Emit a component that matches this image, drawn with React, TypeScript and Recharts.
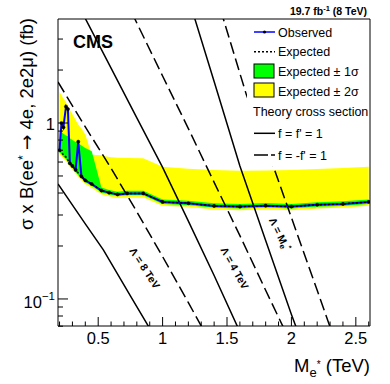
import React from 'react';
import { ComposedChart, Line, Area, XAxis, YAxis, ReferenceLine, Legend } from 'recharts';

const FONT = '"Liberation Sans", Arial, Helvetica, sans-serif';
const X_MIN = 0.188;
const X_MAX = 2.61;
const Y_MIN = 0.0702;
const Y_MAX = 3.9;

// limit scan (TeV) and cross section limits (fb)
const masses = [0.2, 0.215, 0.23, 0.25, 0.265, 0.28, 0.3, 0.325, 0.345, 0.37, 0.4, 0.45, 0.525, 0.585, 0.65, 0.725, 0.85, 1.0, 1.2, 1.4, 1.6, 1.8, 2.0, 2.2, 2.4, 2.6];
const observed = [0.7, 1.0, 0.945, 1.24, 1.2, 0.59, 0.57, 0.541, 0.783, 0.497, 0.472, 0.45, 0.413, 0.402, 0.393, 0.398, 0.398, 0.356, 0.35, 0.338, 0.335, 0.339, 0.335, 0.343, 0.347, 0.356];
const expected = [0.7, 0.68, 0.66, 0.64, 0.615, 0.59, 0.57, 0.541, 0.52, 0.497, 0.472, 0.45, 0.413, 0.402, 0.393, 0.398, 0.398, 0.356, 0.35, 0.338, 0.335, 0.339, 0.335, 0.343, 0.347, 0.356];
const oneSigmaLow = [0.683, 0.663, 0.644, 0.624, 0.6, 0.575, 0.556, 0.527, 0.507, 0.485, 0.46, 0.439, 0.403, 0.392, 0.383, 0.388, 0.388, 0.347, 0.341, 0.33, 0.327, 0.331, 0.327, 0.334, 0.338, 0.347];
const oneSigmaHigh = [0.9, 0.89, 0.87, 0.85, 0.84, 0.82, 0.8, 0.78, 0.77, 0.745, 0.72, 0.69, 0.43, 0.416, 0.407, 0.412, 0.412, 0.368, 0.362, 0.35, 0.347, 0.351, 0.347, 0.355, 0.359, 0.368];
const twoSigmaLow = [0.667, 0.648, 0.629, 0.61, 0.586, 0.562, 0.543, 0.516, 0.496, 0.474, 0.45, 0.429, 0.394, 0.383, 0.375, 0.379, 0.379, 0.339, 0.334, 0.322, 0.319, 0.323, 0.319, 0.327, 0.331, 0.339];
const twoSigmaHigh = [1.5, 1.44, 1.38, 1.31, 1.25, 1.19, 1.12, 1.04, 0.98, 0.93, 0.86, 0.66, 0.655, 0.64, 0.635, 0.633, 0.63, 0.565, 0.55, 0.54, 0.535, 0.537, 0.54, 0.547, 0.555, 0.565];

// theory cross sections
const lam8PlusM = [0.188, 0.4, 0.54, 0.75, 0.9];
const lam8PlusV = [0.45, 0.267, 0.19, 0.104, 0.068];
const lam8MinusM = [0.188, 0.4, 0.6, 0.8, 1.0, 1.2, 1.32];
const lam8MinusV = [1.71, 0.95, 0.553, 0.313, 0.174, 0.0953, 0.066];
const lam4PlusM = [0.38, 0.6, 0.8, 1.0, 1.2, 1.4, 1.6];
const lam4PlusV = [4.19, 2.05, 1.07, 0.56, 0.277, 0.136, 0.065];
const lam4MinusM = [0.76, 1.0, 1.2, 1.4, 1.6, 1.8, 1.95];
const lam4MinusV = [4.25, 1.85, 0.93, 0.46, 0.229, 0.112, 0.066];
const lamMPlusM = [1.23, 1.4, 1.6, 1.8, 2.0, 2.05];
const lamMPlusV = [4.37, 1.72, 0.57, 0.215, 0.0817, 0.065];
const lamMMinusM = [1.45, 1.65, 1.86, 2.0, 2.2, 2.31];
const lamMMinusV = [4.4, 1.45, 0.565, 0.29, 0.112, 0.066];

const xTicks = [0.2, 0.3, 0.4, 0.5, 0.6, 0.7, 0.8, 0.9, 1, 1.1, 1.2, 1.3, 1.4, 1.5, 1.6, 1.7, 1.8, 1.9, 2, 2.1, 2.2, 2.3, 2.4, 2.5, 2.6];
const yTicks = [0.07, 0.08, 0.09, 0.1, 0.2, 0.3, 0.4, 0.5, 0.6, 0.7, 0.8, 0.9, 1, 2, 3];

const limitData = masses.map((m, i) => ({ m, obs: observed[i], exp: expected[i] }));
const oneSigma = masses.map((m, i) => ({ m, band: [oneSigmaLow[i], oneSigmaHigh[i]] }));
const twoSigma = masses.map((m, i) => ({ m, band: [twoSigmaLow[i], twoSigmaHigh[i]] }));
const toPts = (ms: number[], vs: number[]) => ms.map((m, i) => ({ m, v: vs[i] }));

const theory = [
  { name: 'l8p', data: toPts(lam8PlusM, lam8PlusV), dash: undefined },
  { name: 'l8m', data: toPts(lam8MinusM, lam8MinusV), dash: '12 5' },
  { name: 'l4p', data: toPts(lam4PlusM, lam4PlusV), dash: undefined },
  { name: 'l4m', data: toPts(lam4MinusM, lam4MinusV), dash: '12 5' },
  { name: 'lMp', data: toPts(lamMPlusM, lamMPlusV), dash: undefined },
  { name: 'lMm', data: toPts(lamMMinusM, lamMMinusV), dash: '12 5' },
];

const XTick = (props: any) => {
  const { x, y, payload } = props;
  const v = payload.value;
  const major = Math.abs(v * 2 - Math.round(v * 2)) < 1e-6;
  return (
    <g>
      <line x1={x} x2={x} y1={y} y2={y - (major ? 9 : 4.5)} stroke="#000" />
      {major && (
        <text x={x} y={y + 18} textAnchor="middle" fontSize={16.5} fontFamily={FONT} fill="#000">
          {String(v)}
        </text>
      )}
    </g>
  );
};

const YTick = (props: any) => {
  const { x, y, payload } = props;
  const v = payload.value;
  const major = v === 0.1 || v === 1;
  return (
    <g>
      <line x1={x} x2={x + (major ? 10 : 5)} y1={y} y2={y} stroke="#000" />
      {v === 1 && (
        <text x={x - 3} y={y + 7} textAnchor="end" fontSize={16.5} fontFamily={FONT} fill="#000">1</text>
      )}
      {v === 0.1 && (
        <text x={x - 3} y={y + 9} textAnchor="end" fontSize={16.5} fontFamily={FONT} fill="#000">
          10<tspan dy={-8} fontSize={11.5}>−1</tspan>
        </text>
      )}
    </g>
  );
};

const LegendBox = () => {
  const t = { fontSize: 12.5, fontFamily: FONT, fill: '#000' };
  return (
    <svg width={122} height={145} style={{ display: 'block', background: '#fff' }}>
      <line x1={7} x2={28} y1={11} y2={11} stroke="#0000ff" strokeWidth={1.5} />
      <circle cx={17.5} cy={11} r={1.6} fill="#000" />
      <text x={31} y={15.5} {...t}>Observed</text>
      <line x1={7} x2={28} y1={30.7} y2={30.7} stroke="#000" strokeWidth={1.5} strokeDasharray="2 2" />
      <text x={31} y={35} {...t}>Expected</text>
      <rect x={7} y={43} width={20} height={14} fill="#00ff00" stroke="#000" />
      <text x={31} y={55.2} {...t}>Expected ± 1σ</text>
      <rect x={7} y={62} width={20} height={14} fill="#ffff00" stroke="#000" />
      <text x={31} y={74.5} {...t}>Expected ± 2σ</text>
      <text x={6} y={95.2} {...t}>Theory cross section</text>
      <line x1={7} x2={28} y1={112.3} y2={112.3} stroke="#000" strokeWidth={1.5} />
      <text x={31} y={116.8} {...t}>f = f' = 1</text>
      <line x1={7} x2={28} y1={134} y2={134} stroke="#000" strokeWidth={1.5} strokeDasharray="14 3" />
      <text x={31} y={138.5} {...t}>f = -f' = 1</text>
    </svg>
  );
};

export default function App() {
  return (
    <div style={{ position: 'absolute', left: 0, top: 0, width: 390, height: 384, background: '#fff' }}>
      <ComposedChart width={390} height={384} margin={{ top: 19, right: 20, left: 0, bottom: 0 }}>
        <XAxis
          type="number"
          dataKey="m"
          domain={[X_MIN, X_MAX]}
          allowDataOverflow
          ticks={xTicks}
          interval={0}
          tick={XTick}
          tickLine={false}
          tickSize={0}
          tickMargin={0}
          axisLine={{ stroke: '#000' }}
          height={58}
        />
        <YAxis
          type="number"
          scale="log"
          domain={[Y_MIN, Y_MAX]}
          allowDataOverflow
          ticks={yTicks}
          interval={0}
          tick={YTick}
          tickLine={false}
          tickSize={0}
          tickMargin={0}
          axisLine={{ stroke: '#000' }}
          width={58}
        />
        <Area data={twoSigma} dataKey="band" type="linear" stroke="none" fill="#ffff00" fillOpacity={1} isAnimationActive={false} />
        <Area data={oneSigma} dataKey="band" type="linear" stroke="none" fill="#00ff00" fillOpacity={1} isAnimationActive={false} />
        {theory.map((t) => (
          <Line
            key={t.name}
            data={t.data}
            dataKey="v"
            type="linear"
            stroke="#000"
            strokeWidth={1.5}
            strokeDasharray={t.dash}
            dot={false}
            isAnimationActive={false}
          />
        ))}
        <Line data={limitData} dataKey="obs" type="linear" stroke="#0000ff" strokeWidth={2} dot={{ r: 1.6, fill: '#000', stroke: '#000', strokeWidth: 0.5 }} isAnimationActive={false} />
        <Line data={limitData} dataKey="exp" type="linear" stroke="#000" strokeWidth={1.5} strokeDasharray="2 2" dot={false} isAnimationActive={false} />
        <ReferenceLine y={Y_MAX} stroke="#000" />
        <ReferenceLine x={X_MAX} stroke="#000" />
        <Legend
          layout="vertical"
          align="center"
          verticalAlign="middle"
          content={LegendBox}
          wrapperStyle={{ left: 247, top: 21, width: 122, height: 145 }}
        />
      </ComposedChart>
      <svg width={390} height={384} style={{ position: 'absolute', left: 0, top: 0, pointerEvents: 'none' }}>
        <text x={367} y={15} textAnchor="end" fontSize={10.5} fontWeight="bold" fontFamily={FONT}>
          19.7 fb<tspan dy={-4} fontSize={7.5}>-1</tspan><tspan dy={4}> (8 TeV)</tspan>
        </text>
        <text x={73} y={47.5} fontSize={18} fontWeight="bold" fontFamily={FONT}>CMS</text>
        <text transform="rotate(-90)" x={-18} y={33} textAnchor="end" fontSize={18.5} fontFamily={FONT} fill="#000">
          σ x B(ee<tspan dy={-6} fontSize={12}>*</tspan>
          <tspan dy={6}> </tspan>
          <tspan fontFamily='"DejaVu Sans"' fill="#000">→</tspan>
          <tspan> 4e, 2e2μ) (fb)</tspan>
        </text>
        <text x={370} y={372} textAnchor="end" fontSize={18.5} fontFamily={FONT}>
          M<tspan dy={5} fontSize={13}>e</tspan><tspan dy={-9} fontSize={10}>*</tspan><tspan dy={4} fontSize={18.5}> (TeV)</tspan>
        </text>
        <g fontSize={10.5} fontWeight="bold" fontFamily={FONT} fill="#000">
          <text x={145} y={268} transform="rotate(57 145 268)" textAnchor="middle" dominantBaseline="central">
            Λ = 8 TeV
          </text>
          <text x={235} y={268} transform="rotate(61 235 268)" textAnchor="middle" dominantBaseline="central">
            Λ = 4 TeV
          </text>
          <text x={280} y={234} transform="rotate(64 280 234)" textAnchor="middle" dominantBaseline="central">
            Λ = M<tspan dy={3} fontSize={8}>e</tspan><tspan dy={-6} fontSize={7}>*</tspan>
          </text>
        </g>
      </svg>
    </div>
  );
}
